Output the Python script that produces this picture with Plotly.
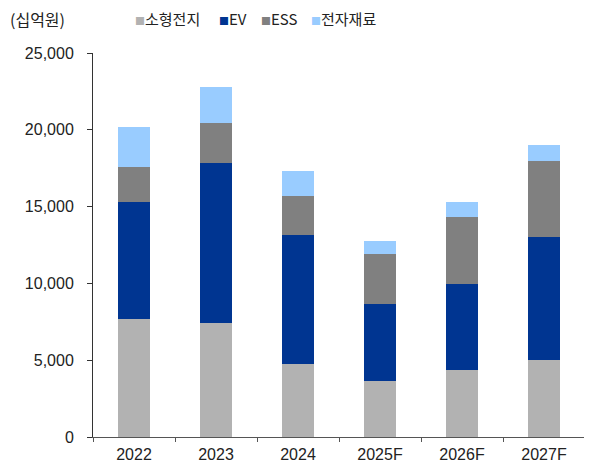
import plotly.graph_objects as go

categories = ["2022", "2023", "2024", "2025F", "2026F", "2027F"]
small_cell = [7680, 7420, 4730, 3650, 4370, 5000]
ev = [7610, 10410, 8430, 4980, 5560, 8020]
ess = [2280, 2590, 2540, 3260, 4370, 4950]
materials = [2590, 2350, 1610, 890, 980, 1020]
series_names = ["소형전지", "EV", "ESS", "전자재료"]
colors = ["#B2B2B2", "#003591", "#808080", "#99CCFF"]
y_ticks = [0, 5000, 10000, 15000, 20000, 25000]
y_tick_labels = ["0", "5,000", "10,000", "15,000", "20,000", "25,000"]

# the page body adds an 8px offset; compensate so the chart lands where the reference has it
OFF = 8
L, R, T, B = 93 - OFF, 7, 53 - OFF, 29
W, H = 592 - OFF, 466 - OFF
PW = W - L - R
PH = H - T - B

fig = go.Figure()
for name, vals, col in zip(series_names, [small_cell, ev, ess, materials], colors):
    fig.add_trace(go.Bar(x=categories, y=vals, name=name, showlegend=False,
                         marker=dict(color=col, line=dict(width=0))))

font_main = "Liberation Sans, Arial, sans-serif"
font_kr = "Noto Sans CJK KR, Liberation Sans, sans-serif"

legend_px = [133, 217, 259, 309]
annotations = []
for name, col, px in zip(series_names, colors, legend_px):
    annotations.append(dict(
        text=f"<span style='color:{col};font-size:10px'>■</span>{name}",
        xref="paper", yref="paper", x=(px - OFF - L) / PW, y=1 + (T - (19 - OFF)) / PH,
        xanchor="left", yanchor="middle", showarrow=False,
        font=dict(family=font_kr, size=15, color="#222222")))
annotations.append(dict(text="(십억원)", xref="paper", yref="paper", x=(0 - L) / PW,
                        y=1 + (T - (19 - OFF)) / PH, xanchor="left", yanchor="middle",
                        showarrow=False,
                        font=dict(family=font_kr, size=16, color="#222222")))

fig.update_layout(
    barmode="stack",
    bargap=0.6,
    width=W, height=H,
    margin=dict(l=L, r=R, t=T, b=B, autoexpand=False),
    plot_bgcolor="white", paper_bgcolor="white",
    font=dict(family=font_main, size=16, color="#222222"),
    showlegend=False,
    xaxis=dict(showline=True, linecolor="#555555", linewidth=1, ticks="outside",
               tickson="boundaries", ticklen=4, tickcolor="#555555",
               ticklabelstandoff=3,
               tickfont=dict(family=font_main, size=16, color="#222222")),
    yaxis=dict(range=[0, 25000], tickvals=y_ticks, ticktext=y_tick_labels,
               showline=True, linecolor="#333333", linewidth=1, ticks="outside",
               ticklen=5, tickcolor="#333333", showgrid=False, zeroline=False,
               ticklabelstandoff=10,
               tickfont=dict(family=font_main, size=16, color="#222222")),
    annotations=annotations,
)

fig.write_html("out.html")
